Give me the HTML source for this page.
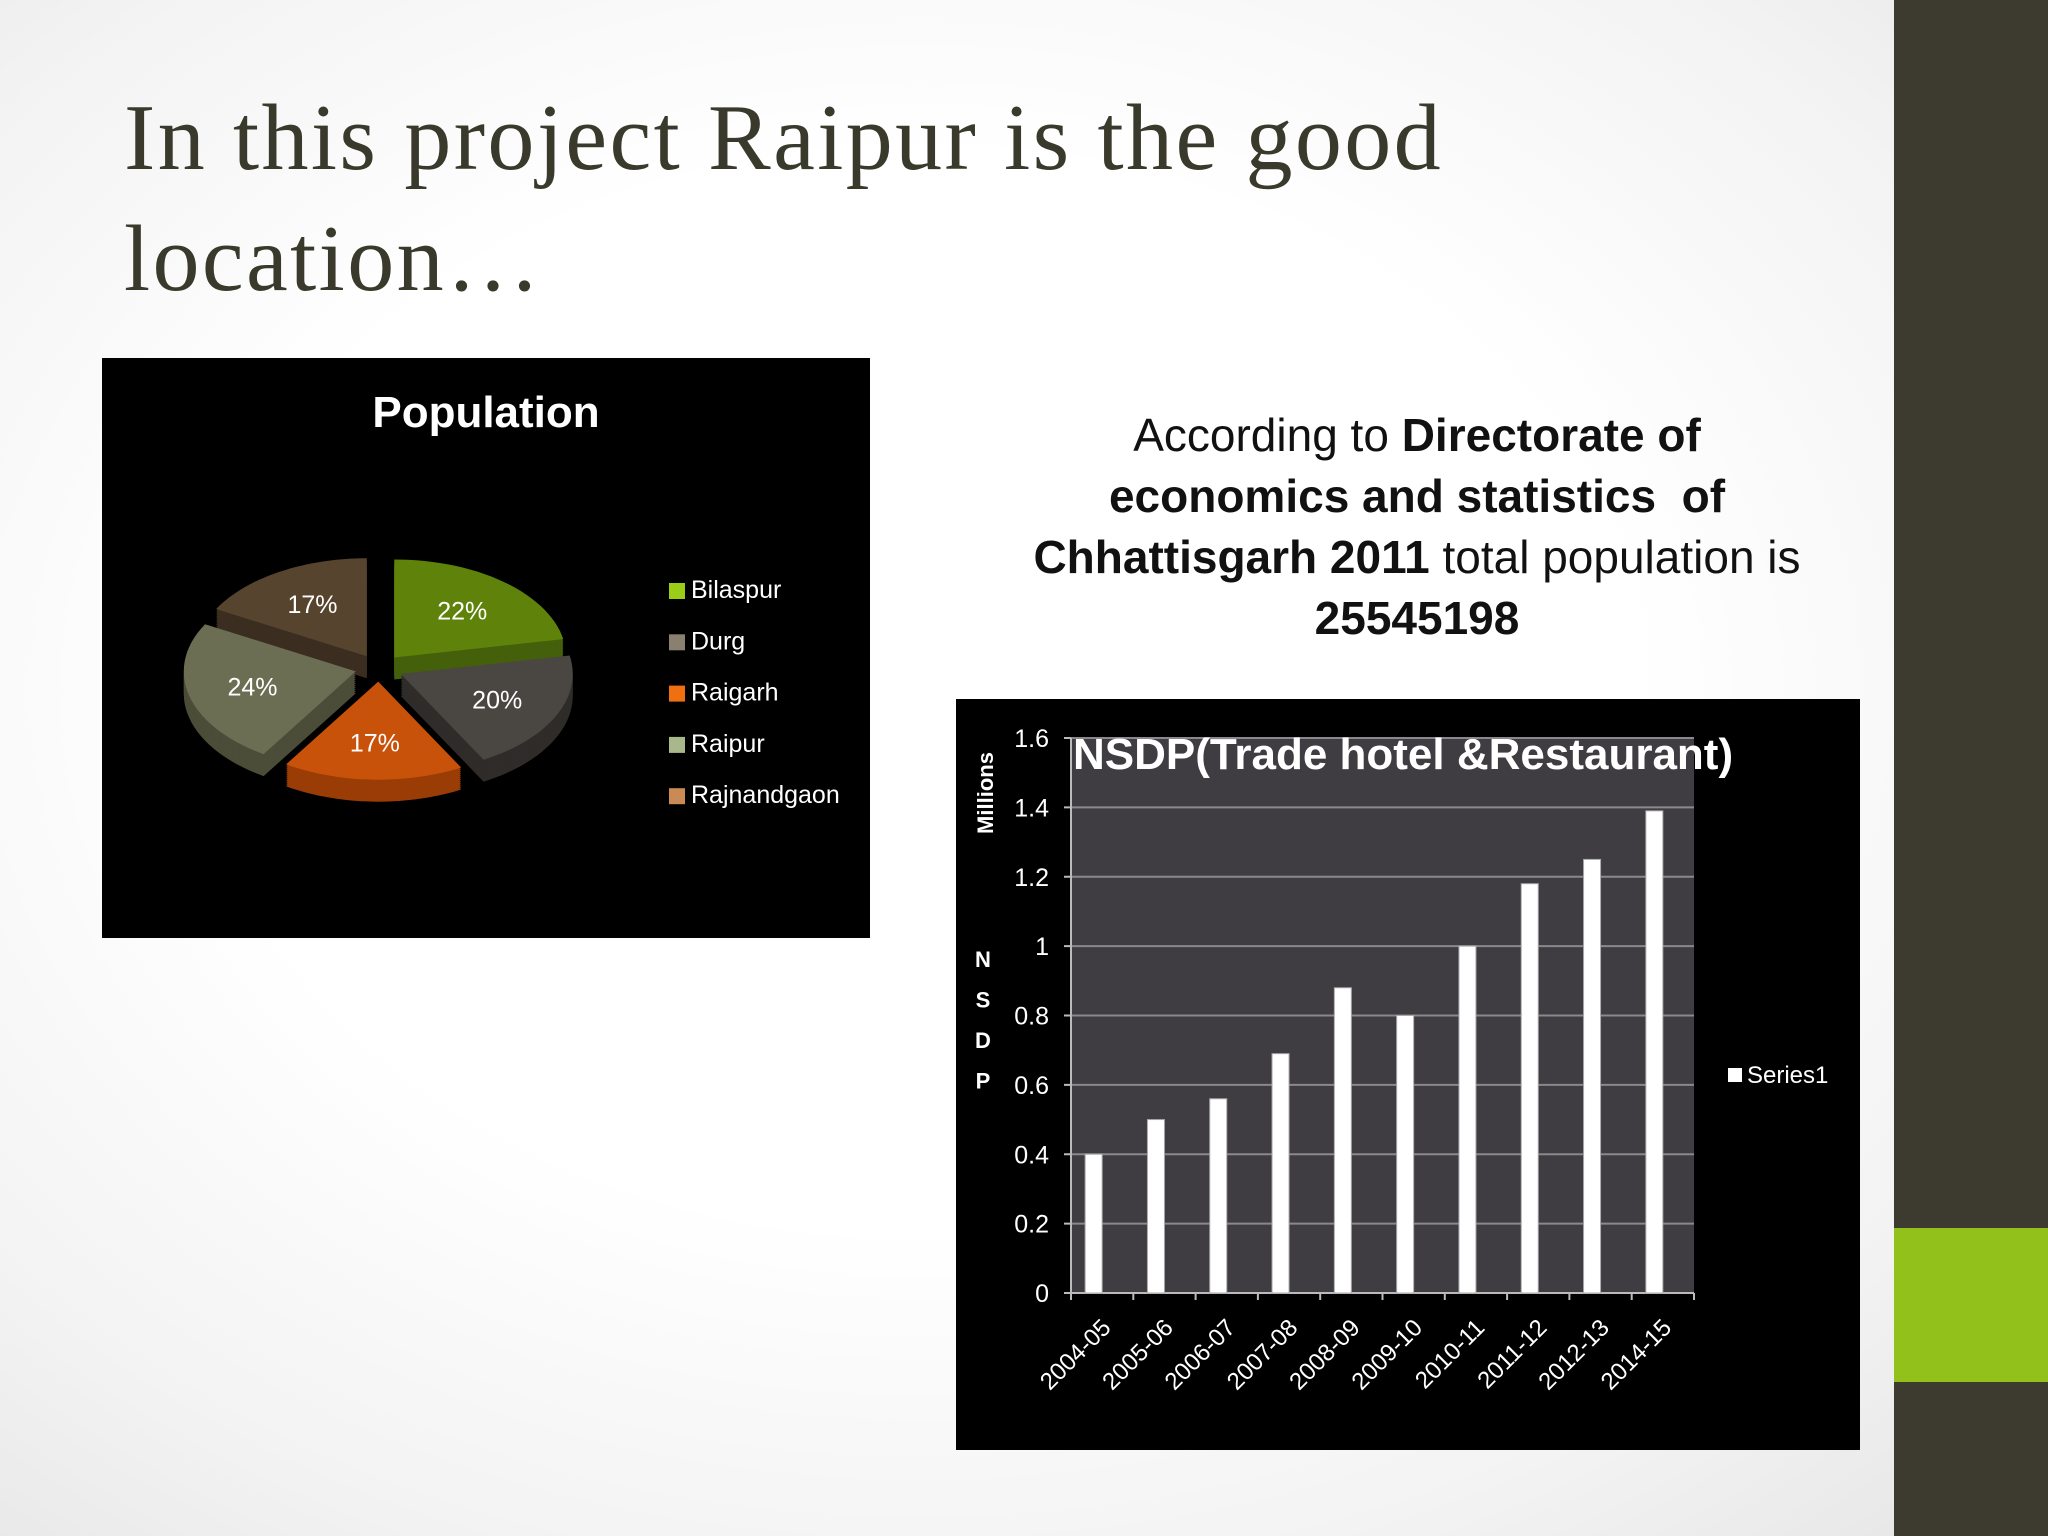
<!DOCTYPE html>
<html><head><meta charset="utf-8">
<style>
html,body{margin:0;padding:0}
body{width:2048px;height:1536px;position:relative;overflow:hidden;background:radial-gradient(ellipse at 45% 45%,#ffffff 45%,#f3f3f3 75%,#e4e4e4 100%);font-family:"Liberation Sans",sans-serif}
.abs{position:absolute}
</style></head><body>
<div class="abs" style="left:1894px;top:0;width:154px;height:1536px;background:#3d3b30"></div>
<div class="abs" style="left:1894px;top:1228px;width:154px;height:154px;background:#93c11c"></div>
<div class="abs" style="left:124px;top:78px;font-family:'Liberation Serif',serif;font-size:94px;line-height:121px;color:#3a3a2c;letter-spacing:2.4px">In this project Raipur is the good<br>location…</div>

<div class="abs" style="left:960px;top:405px;width:914px;text-align:center;font-size:46px;line-height:61px;color:#111">According to <b>Directorate of<br>economics and statistics &nbsp;of<br>Chhattisgarh 2011</b> total population is<br><b>25545198</b></div>

<svg class="abs" style="left:102px;top:358px" width="768" height="580">
<rect width="768" height="580" fill="#000"/>
<text x="384" y="69" text-anchor="middle" fill="#fff" font-size="44" font-weight="bold" font-family="Liberation Sans, sans-serif">Population</text>
<g id="pie"></g>
<g id="legend"></g>
</svg>

<svg class="abs" style="left:956px;top:699px" width="904" height="751">
<rect width="904" height="751" fill="#000"/>
<g id="bars"></g>
</svg>

<script>
// Pie data
const pieCats=["Bilaspur","Durg","Raigarh","Raipur","Rajnandgaon"];
const pieVals=[22,20,17,24,17];
const pieColors=["#5f820b","#4a4642","#c9520a","#6b6e52","#56442f"];
const sideColors=["#44600a","#2f2c29","#9a3c05","#4b4d38","#3b2e20"];
const legendColors=["#9acd17","#8a8070","#f06f10","#a9b88a","#c98a55"];

// Bar data
const barCats=["2004-05","2005-06","2006-07","2007-08","2008-09","2009-10","2010-11","2011-12","2012-13","2014-15"];
const barVals=[0.40,0.50,0.56,0.69,0.88,0.80,1.00,1.18,1.25,1.39];
const yTicks=[0,0.2,0.4,0.6,0.8,1,1.2,1.4,1.6];

const NS="http://www.w3.org/2000/svg";
function mk(tag,attrs,parent){const e=document.createElementNS(NS,tag);for(const k in attrs)e.setAttribute(k,attrs[k]);parent.appendChild(e);return e;}

// ---- Pie ----
(function(){
 const g=document.getElementById('pie');
 const cx=277,cy=310,rx=172,ry=98,depth=22,ex=24;
 const total=pieVals.reduce((a,b)=>a+b,0);
 let a0=0;const slices=[];
 pieVals.forEach((v,i)=>{const a1=a0+v/total*2*Math.PI;slices.push({i,a0,a1,mid:(a0+a1)/2});a0=a1;});
 function path(s,ox,oy){
  let d=`M${ox},${oy}`;
  const n=30;
  for(let k=0;k<=n;k++){const t=s.a0+(s.a1-s.a0)*k/n;d+=` L${(ox+rx*Math.sin(t)).toFixed(1)},${(oy-ry*Math.cos(t)).toFixed(1)}`;}
  return d+'Z';
 }
 slices.sort((a,b)=>Math.cos(b.mid)-Math.cos(a.mid));
 slices.forEach(s=>{
  const ox=cx+ex*Math.sin(s.mid),oy=cy-ex*(ry/rx)*Math.cos(s.mid);
  const sg=mk('g',{},g);
  
  
  for(let d=depth;d>0;d-=2){mk('path',{d:path(s,ox,oy+d),fill:sideColors[s.i]},sg);}
  mk('path',{d:path(s,ox,oy),fill:pieColors[s.i]},sg);
  const lx=ox+rx*0.62*Math.sin(s.mid),ly=oy-ry*0.62*Math.cos(s.mid)+9;
  const t=mk('text',{x:lx,y:ly,'text-anchor':'middle',fill:'#fff','font-size':25,'font-family':'Liberation Sans, sans-serif'},sg);
  t.textContent=pieVals[s.i]+'%';
  
  
 });
 const lg=document.getElementById('legend');
 pieCats.forEach((c,i)=>{
  const y=239+i*51.3;
  const e=mk('g',{},lg);
  
  
  mk('rect',{x:567,y:y-14,width:16,height:16,fill:legendColors[i]},e);
  const t=mk('text',{x:589,y:y+1,fill:'#fff','font-size':25,'font-family':'Liberation Sans, sans-serif'},e);
  t.textContent=c;
 });
})();

// ---- Bars ----
(function(){
 const g=document.getElementById('bars');
 const L=115,R=738,T=39,B=594,ymax=1.6;
 const y=v=>B-(v/ymax)*(B-T);
 const bw=(R-L)/barCats.length;
 const x=i=>L+bw*i+bw/2-9;
 const bg=mk('rect',{x:L,y:T,width:R-L,height:B-T,fill:'#403d42'},g);
 
 
 yTicks.forEach(v=>{
  if(v>0){const l=mk('line',{x1:L,x2:R,y1:y(v),y2:y(v),stroke:'#8a888c','stroke-width':2},g);
   
   }
  mk('line',{x1:L-7,x2:L,y1:y(v),y2:y(v),stroke:'#bbb','stroke-width':2},g);
  const t=mk('text',{x:L-22,y:y(v)+9,'text-anchor':'end',fill:'#fff','font-size':25,'font-family':'Liberation Sans, sans-serif'},g);
  t.textContent=String(v);
  
  
 });
 mk('line',{x1:L,x2:L,y1:T,y2:B,stroke:'#bbb','stroke-width':2},g);
 mk('line',{x1:L,x2:R,y1:B,y2:B,stroke:'#bbb','stroke-width':2},g);
 for(let i=0;i<=barCats.length;i++)mk('line',{x1:L+bw*i,x2:L+bw*i,y1:B,y2:B+7,stroke:'#bbb','stroke-width':2},g);
 barCats.forEach((c,i)=>{
  const r=mk('rect',{x:x(i)-8,y:y(barVals[i]),width:17,height:B-y(barVals[i]),fill:'#fff',stroke:'#aaa','stroke-width':1},g);
  
  
  const cxl=L+bw*i+bw/2+10;
  const t=mk('text',{x:cxl,y:B+36,'text-anchor':'end',fill:'#fff','font-size':24,'font-family':'Liberation Sans, sans-serif',transform:`rotate(-45 ${cxl} ${B+36})`},g);
  t.textContent=c;
  
  
 });
 const tt=mk('text',{x:117,y:70,fill:'#fff','font-size':44,'font-weight':'bold','font-family':'Liberation Sans, sans-serif'},g);
 tt.textContent='NSDP(Trade hotel &Restaurant)';
 
 
 const m=mk('text',{x:0,y:0,'text-anchor':'middle',fill:'#fff','font-size':22,'font-weight':'bold','font-family':'Liberation Sans, sans-serif',transform:'translate(37 94) rotate(-90)'},g);
 m.textContent='Millions';
 
 
 ['N','S','D','P'].forEach((ch,k)=>{
  const t=mk('text',{x:27,y:268+k*40.5,'text-anchor':'middle',fill:'#fff','font-size':22,'font-weight':'bold','font-family':'Liberation Sans, sans-serif'},g);
  t.textContent=ch;
  
  
 });
 const le=mk('g',{},g);
 
 
 mk('rect',{x:772,y:369,width:14,height:14,fill:'#fff'},le);
 const lt=mk('text',{x:791,y:384,fill:'#fff','font-size':24,'font-family':'Liberation Sans, sans-serif'},le);
 lt.textContent='Series1';
})();
</script>
</body></html>
